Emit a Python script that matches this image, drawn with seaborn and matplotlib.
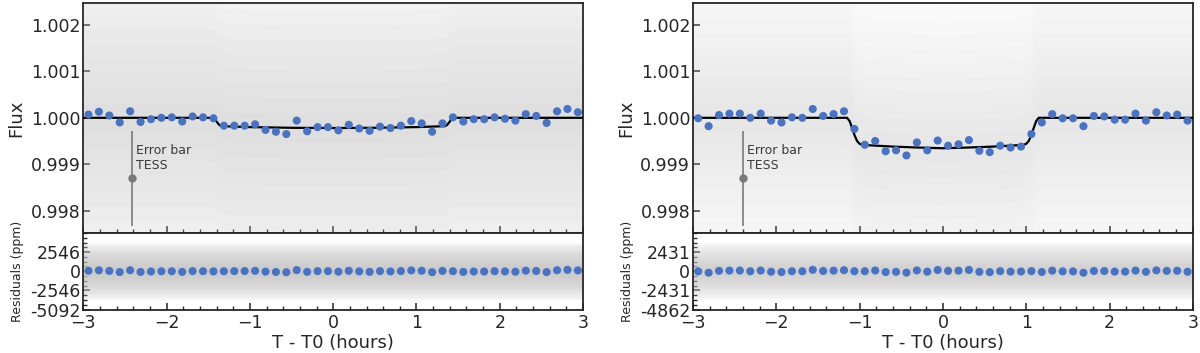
import numpy as np
import matplotlib
matplotlib.use('Agg')
import matplotlib.pyplot as plt
import seaborn as sns
from matplotlib.ticker import AutoMinorLocator, MultipleLocator

# Binned light curves (T - T0 in hours)
bin_time = [-2.9375, -2.8125, -2.6875, -2.5625, -2.4375, -2.3125, -2.1875, -2.0625,
            -1.9375, -1.8125, -1.6875, -1.5625, -1.4375, -1.3125, -1.1875, -1.0625,
            -0.9375, -0.8125, -0.6875, -0.5625, -0.4375, -0.3125, -0.1875, -0.0625,
            0.0625, 0.1875, 0.3125, 0.4375, 0.5625, 0.6875, 0.8125, 0.9375,
            1.0625, 1.1875, 1.3125, 1.4375, 1.5625, 1.6875, 1.8125, 1.9375,
            2.0625, 2.1875, 2.3125, 2.4375, 2.5625, 2.6875, 2.8125, 2.9375]

left_binned = [1.00007, 1.00013, 1.00005, 0.99990, 1.00014, 0.99991, 0.99997, 1.00000,
               1.00001, 0.99992, 1.00003, 1.00001, 0.99999, 0.99983, 0.99983, 0.99983,
               0.99986, 0.99974, 0.99970, 0.99965, 0.99994, 0.99971, 0.99980, 0.99980,
               0.99973, 0.99985, 0.99977, 0.99972, 0.99981, 0.99978, 0.99983, 0.99993,
               0.99988, 0.99970, 0.99988, 1.00001, 0.99992, 0.99997, 0.99997, 1.00001,
               0.99998, 0.99994, 1.00008, 1.00004, 0.99989, 1.00014, 1.00019, 1.00012]

right_binned = [0.99999, 0.99982, 1.00006, 1.00009, 1.00009, 1.00000, 1.00009, 0.99994,
                0.99990, 1.00001, 1.00000, 1.00019, 1.00004, 1.00008, 1.00014, 0.99976,
                0.99942, 0.99950, 0.99928, 0.99930, 0.99919, 0.99947, 0.99930, 0.99951,
                0.99940, 0.99943, 0.99952, 0.99929, 0.99926, 0.99940, 0.99936, 0.99938,
                0.99965, 0.99990, 1.00008, 0.99999, 0.99999, 0.99982, 1.00004, 1.00003,
                0.99996, 0.99996, 1.00009, 0.99994, 1.00012, 1.00005, 1.00007, 0.99994]

# binned residuals (ppm)
left_resid = [70, 130, 50, -100, 140, -90, -30, 0, 10, -80, 30, 10, -10, 10, 20, 30,
              60, -50, -90, -130, 160, -70, 20, 20, -50, 70, -10, -70, 20, -20, 30, 120,
              70, -120, 50, 10, -80, -30, -30, 10, -20, -60, 80, 40, -110, 140, 190, 120]

right_resid = [-10, -180, 60, 90, 90, 0, 90, -60, -100, 10, 0, 190, 40, 80, 140, 10,
               10, 100, -100, -70, -170, 115, -50, 165, 55, 80, 165, -70, -110, 20, -40, -30,
               20, -90, 80, -10, -10, -180, 40, 30, -40, -40, 90, -60, 120, 50, 70, -60]

# transit models
left_model_t = [-3.0, -1.43, -1.40, -1.37, -1.34, -1.0, -0.5, 0.0, 0.5, 1.0, 1.34, 1.37, 1.40, 1.43, 3.0]
left_model_f = [1.0, 1.0, 0.99992, 0.99985, 0.99982, 0.99980, 0.999785, 0.99978, 0.999785, 0.99980,
                0.99982, 0.99985, 0.99992, 1.0, 1.0]

right_model_t = [-3.0, -1.15, -1.12, -1.09, -1.06, -1.03, -1.0, -0.97, -0.9, -0.6, -0.3, 0.0,
                 0.3, 0.6, 0.9, 0.97, 1.0, 1.03, 1.06, 1.09, 1.12, 1.15, 3.0]
right_model_f = [1.0, 1.0, 0.99993, 0.99978, 0.99962, 0.99950, 0.99944, 0.99942, 0.99941, 0.99938,
                 0.99936, 0.999345, 0.99936, 0.99938, 0.99941, 0.99942, 0.99944, 0.99950, 0.99962,
                 0.99978, 0.99993, 1.0, 1.0]

# spread of the unbinned TESS points (ppm, residual ticks are at 2 sigma)
left_sigma = 1273
right_sigma = 1215.5
left_resid_ticks = [-5092, -2546, 0, 2546]
right_resid_ticks = [-4862, -2431, 0, 2431]
flux_ticks = [0.998, 0.999, 1.000, 1.001, 1.002]

# TESS error bar marker
left_err_x = -2.41
right_err_x = -2.395
err_y = 0.9987
err_size = 0.00102

sns.set_theme(style='ticks')
plt.rcParams['font.family'] = ['DejaVu Sans']

blue = '#4872c2'
cloud = '#c4c4c4'
# nested bands (in sigma) used to shade the cloud of unbinned points
levels = [0.25, 0.5, 0.75, 1.0, 1.25, 1.5, 1.75, 2.0, 2.25, 2.5, 2.75, 3.0]

fig = plt.figure(figsize=(12, 3.53), dpi=100)


def draw_panel(left, binned, resid, mt, mf, sigma, rticks, err_x, a_main, a_res):
    ax = fig.add_axes([left, 0.340, 0.4165, 0.6525])
    axr = fig.add_axes([left, 0.123, 0.4165, 0.217], sharex=ax)

    mt = np.array(mt)
    mf = np.array(mf)
    # unbinned data cloud, drawn as its spread around the model
    for k in levels:
        ax.fill_between(mt, mf - k * sigma * 1e-6, mf + k * sigma * 1e-6,
                        color=cloud, alpha=a_main, lw=0, zorder=1)
        axr.fill_between([-3, 3], [-k * sigma] * 2, [k * sigma] * 2,
                         color=cloud, alpha=a_res, lw=0, zorder=1)

    sns.lineplot(x=mt, y=mf, ax=ax, color='black', lw=1.6, estimator=None, sort=False, zorder=3)
    sns.scatterplot(x=bin_time, y=binned, ax=ax, color=blue, s=34, edgecolor='none', zorder=4)
    sns.scatterplot(x=bin_time, y=resid, ax=axr, color=blue, s=34, edgecolor='none', zorder=4)

    ax.errorbar(err_x, err_y, yerr=err_size, fmt='o', color='#7a7a7a', ms=5, elinewidth=1.2,
                capsize=0, zorder=5)
    ax.text(err_x + 0.04, 0.99914, 'Error bar\nTESS', fontsize=9, color='#3a3a3a',
            ha='left', va='center', zorder=5)

    ax.set_xlim(-3, 3)
    ax.set_ylim(0.99752, 1.00248)
    ax.set_yticks(flux_ticks)
    ax.set_yticklabels(['%.3f' % v for v in flux_ticks])
    ax.set_ylabel('Flux', fontsize=13)
    ax.tick_params(labelbottom=False)

    axr.set_ylim(rticks[0], -rticks[0])
    axr.set_yticks(rticks)
    axr.set_yticklabels(['%d' % v for v in rticks])
    axr.set_ylabel('Residuals (ppm)', fontsize=9)
    axr.set_xlabel('T - T0 (hours)', fontsize=13, labelpad=1)
    axr.xaxis.set_minor_locator(MultipleLocator(0.2))
    axr.yaxis.set_minor_locator(AutoMinorLocator(4))

    for a in (ax, axr):
        a.tick_params(direction='in', which='major', length=5, width=1.1, labelsize=12.5, pad=2)
        a.tick_params(direction='in', which='minor', length=3, width=1.0)
        for s in a.spines.values():
            s.set_linewidth(1.3)
            s.set_color('#262626')
    axr.tick_params(axis='x', which='major', pad=3.5)


draw_panel(0.0694, left_binned, left_resid, left_model_t, left_model_f, left_sigma,
           left_resid_ticks, left_err_x, 0.05, 0.14)
draw_panel(0.5775, right_binned, right_resid, right_model_t, right_model_f, right_sigma,
           right_resid_ticks, right_err_x, 0.03, 0.11)

fig.savefig('out.png', dpi=100)
